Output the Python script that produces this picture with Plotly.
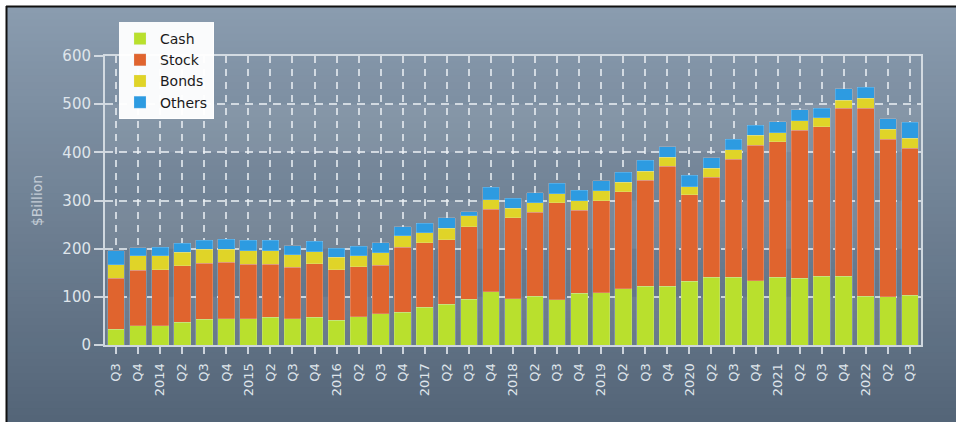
import plotly.graph_objects as go

# ---- data ----
quarters = ["Q3", "Q4", "2014", "Q2", "Q3", "Q4", "2015", "Q2", "Q3", "Q4",
            "2016", "Q2", "Q3", "Q4", "2017", "Q2", "Q3", "Q4", "2018", "Q2",
            "Q3", "Q4", "2019", "Q2", "Q3", "Q4", "2020", "Q2", "Q3", "Q4",
            "2021", "Q2", "Q3", "Q4", "2022", "Q2", "Q3"]

cash = [33, 40, 40, 47, 53, 55, 55, 58, 54, 58,
        51, 59, 65, 68, 78, 85, 95, 111, 96, 101,
        94, 107, 108, 117, 122, 122, 132, 141, 141, 133,
        141, 139, 143, 143, 101, 100, 103]
stock = [106, 115, 116, 118, 117, 117, 113, 110, 107, 111,
         105, 103, 101, 135, 134, 134, 150, 171, 168, 175,
         201, 173, 192, 201, 220, 249, 180, 207, 245, 282,
         281, 307, 310, 349, 391, 327, 306]
bonds = [28, 30, 29, 28, 29, 27, 28, 28, 26, 25,
         26, 23, 26, 24, 21, 23, 23, 20, 20, 19,
         19, 20, 20, 20, 19, 19, 17, 19, 19, 20,
         19, 20, 19, 16, 20, 21, 20]
others = [29, 17, 18, 18, 18, 21, 21, 22, 19, 21,
          19, 20, 20, 18, 20, 22, 9, 26, 21, 21,
          22, 21, 21, 21, 23, 22, 23, 22, 22, 21,
          22, 22, 20, 24, 23, 22, 33]

series_names = ["Cash", "Stock", "Bonds", "Others"]
series_colors = ["#b9e02d", "#e0642e", "#e0d428", "#2d9be1"]

# ---- layout geometry (pixels) ----
W, H = 956, 422
PL, PR, PT, PB = 105, 921, 56, 345


def px2x(px):
    return (px - PL) / (PR - PL)


def py2y(py):
    return (PB - py) / (PB - PT)


def lerp(a, b, t):
    return tuple(int(round(a[i] + (b[i] - a[i]) * t)) for i in range(3))


fig = go.Figure()
xs = list(range(len(quarters)))
for name, vals, col in zip(series_names, [cash, stock, bonds, others], series_colors):
    fig.add_trace(go.Bar(
        x=xs, y=vals, name=name,
        marker=dict(color=col, line=dict(color="rgba(220,235,250,0.35)", width=0.6)),
    ))

shapes = []
# paper gradient background
top_c = (138, 156, 175)
bot_c = (84, 101, 120)
n = 60
y0p, y1p = 6, H
for i in range(n):
    a = y0p + (y1p - y0p) * i / n
    b = min(y1p + 4, y0p + (y1p - y0p) * (i + 1) / n + 3)
    c = lerp(top_c, bot_c, (i + 0.5) / n)
    shapes.append(dict(type="rect", xref="paper", yref="paper",
                       x0=px2x(6), x1=px2x(W + 4), y0=py2y(a), y1=py2y(b),
                       fillcolor="rgb(%d,%d,%d)" % c, line=dict(width=0), layer="below"))
# black frame (top and left edges)
shapes.append(dict(type="line", xref="paper", yref="paper",
                   x0=px2x(6), x1=px2x(W + 4), y0=py2y(6.5), y1=py2y(6.5),
                   line=dict(color="#111111", width=2), layer="below"))
shapes.append(dict(type="line", xref="paper", yref="paper",
                   x0=px2x(6.5), x1=px2x(6.5), y0=py2y(6), y1=py2y(H + 4),
                   line=dict(color="#111111", width=2), layer="below"))
# alternating bands in plot area
for lo in (0, 200, 400):
    shapes.append(dict(type="rect", xref="paper", yref="y", x0=0, x1=1, y0=lo, y1=lo + 100,
                       fillcolor="rgba(255,255,255,0.07)", line=dict(width=0), layer="below"))

fig.update_layout(
    width=W, height=H,
    margin=dict(l=PL, r=W - PR, t=PT, b=H - PB, autoexpand=False),
    paper_bgcolor="white",
    plot_bgcolor="rgba(255,255,255,0.24)",
    barmode="stack",
    bargap=0.24,
    shapes=shapes,
    font=dict(family="DejaVu Sans", color="#dfe5eb", size=13),
    showlegend=True,
    legend=dict(
        x=px2x(119), y=py2y(22), xanchor="left", yanchor="top",
        bgcolor="rgba(255,255,255,0.96)",
        bordercolor="rgba(255,255,255,0.96)", borderwidth=1,
        font=dict(family="DejaVu Sans", size=14, color="#1a1a1a"),
        traceorder="normal",
        itemwidth=30,
        tracegroupgap=0,
    ),
    xaxis=dict(
        range=[-0.5, len(quarters) - 0.5],
        tickmode="array", tickvals=xs, ticktext=quarters,
        tickangle=-90,
        tickfont=dict(size=13, color="#dfe5eb"),
        showgrid=True, gridcolor="rgba(238,242,246,0.75)", gridwidth=1.5, griddash="7px,6px",
        ticks="outside", ticklen=7, tickcolor="rgba(225,230,236,0.85)", tickwidth=1.5,
        ticklabelstandoff=4,
        showline=True, linecolor="rgba(220,226,232,0.9)", linewidth=2, mirror=True,
        zeroline=False,
    ),
    yaxis=dict(
        range=[0, 600], dtick=100,
        tickfont=dict(size=15, color="#dfe5eb"),
        showgrid=True, gridcolor="rgba(238,242,246,0.75)", gridwidth=1.5, griddash="8px,6px",
        ticks="outside", ticklen=9, tickcolor="rgba(225,230,236,0.85)", tickwidth=1.5,
        showline=True, linecolor="rgba(220,226,232,0.9)", linewidth=2, mirror=True,
        zeroline=False,
        title=dict(text="$Billion", font=dict(size=14, color="#c3ccd6"), standoff=16),
    ),
)

fig.write_html("out.html",
               config={"displayModeBar": False},
               post_script="document.body.style.margin='0';document.body.style.padding='0';"
                           "document.body.style.overflow='hidden';")
